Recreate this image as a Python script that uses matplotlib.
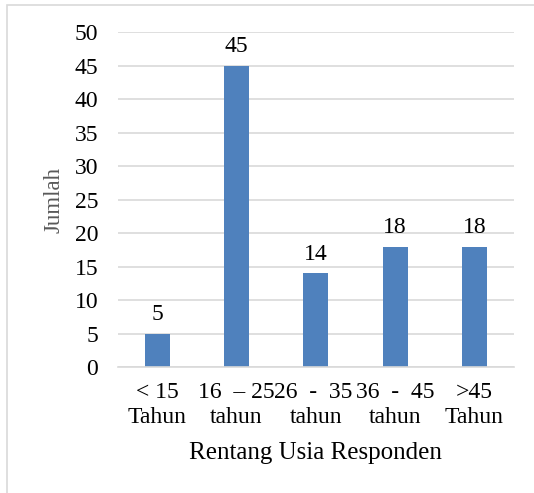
import matplotlib
matplotlib.use("Agg")
import matplotlib.pyplot as plt
from matplotlib.patches import Rectangle

categories = ["< 15\nTahun", "16  – 25\ntahun", "26  -  35 \ntahun", "36  -  45\ntahun", ">45\nTahun"]
values = [5, 45, 14, 18, 18]
yticks = [0, 5, 10, 15, 20, 25, 30, 35, 40, 45, 50]

plt.rcParams['font.family'] = ['Liberation Serif', 'DejaVu Serif']
W, H = 534, 493
fig = plt.figure(figsize=(W/100, H/100), dpi=100)
ax = fig.add_axes([117.5/W, 1-367/H, (514-117.5)/W, (367-32.3)/H])

x = list(range(len(values)))
bars = ax.bar(x, values, width=0.315, color="#4F81BD", zorder=3)
for xi, v in zip(x, values):
    ax.annotate(str(v), (xi, v), xytext=(0, 6), textcoords="offset points",
                ha="center", va="bottom", fontsize=17, color="#000000")

ax.set_xlim(-0.5, len(values)-0.5)
ax.set_ylim(0, 50)
ax.set_yticks(yticks)
ax.set_yticklabels([str(t) for t in yticks], fontsize=17)
ax.set_xticks(x)
ax.set_xticklabels(categories, fontsize=17, linespacing=1.3)
ax.tick_params(axis='y', length=0, pad=14)
ax.tick_params(axis='x', length=0, pad=10.5)
ax.grid(axis='y', color="#D9D9D9", linewidth=1.2, zorder=0)
for s in ['top', 'right', 'left']:
    ax.spines[s].set_visible(False)
ax.spines['bottom'].set_color("#D9D9D9")
ax.spines['bottom'].set_linewidth(1.2)
ax.spines['bottom'].set_zorder(4)

ax.set_ylabel("Jumlah", fontsize=16.5, color="#595959")
ax.yaxis.set_label_coords((64-117.5)/(514-117.5), 0.5)
ax.set_xlabel("Rentang Usia Responden", fontsize=18, labelpad=10)

fig.patches.append(Rectangle((7/W, -0.1), 1.2, 1-5/H+0.1, transform=fig.transFigure,
                             fill=False, edgecolor="#D9D9D9", linewidth=1.2))

fig.savefig("out.png", dpi=100)
